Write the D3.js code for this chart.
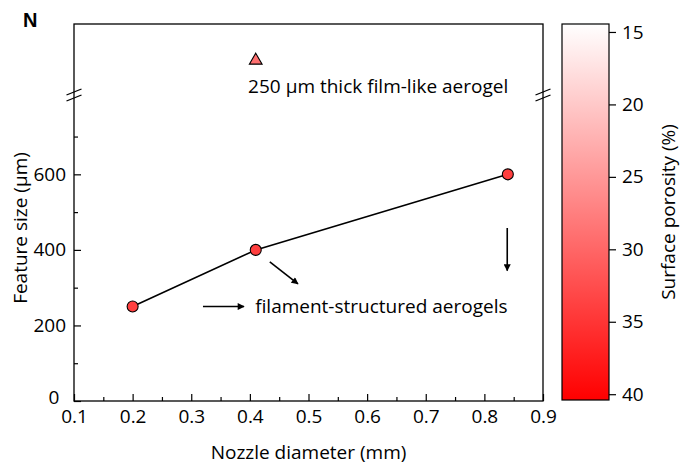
<!DOCTYPE html>
<html>
<head>
<meta charset="utf-8">
<script src="https://cdn.jsdelivr.net/npm/d3@7"></script>
<style>
  body { margin: 0; background: #fff; }
  svg { display: block; font-family: "Open Sans", sans-serif; }
</style>
</head>
<body>
<svg id="chart" width="696" height="468"></svg>
<script>
// ---------- data ----------
const nozzleDiameter = [0.2, 0.41, 0.84];          // mm
const featureSize    = [250, 400, 600];            // µm
const surfacePorosity = [34, 34, 34];              // %
const filmNozzle = [0.41];
const filmFeature = [1500];                        // above the axis break
const filmPorosity = [29];
const xTicks = [0.1, 0.2, 0.3, 0.4, 0.5, 0.6, 0.7, 0.8, 0.9];
const xMinor = [0.15, 0.25, 0.35, 0.45, 0.55, 0.65, 0.75, 0.85];
const yTicks = [0, 200, 400, 600];
const yMinor = [100, 300, 500, 700];
const cTicks = [15, 20, 25, 30, 35, 40];
// annotation arrows in data space: [x1, y1, x2, y2]
const arrows = [
  [0.434, 368, 0.482, 310],
  [0.839, 458, 0.839, 345],
  [0.32, 250, 0.39, 250]
];

// ---------- layout ----------
const svg = d3.select("#chart");
const L = 74, R = 543, T = 24, B = 401, BRK = 95;

const x = d3.scaleLinear().domain([0.1, 0.9]).range([L, R]);
const y = d3.scaleLinear().domain([0, 810]).range([B, BRK]);
const yTop = d3.scaleLinear().domain([1000, 2000]).range([BRK, T]);
const cmin = 14.45, cmax = 40.4;
const color = d3.scaleLinear().domain([cmin, cmax]).range(["#ffffff", "#ff0000"]);
const cy = d3.scaleLinear().domain([cmin, cmax]).range([T, 400]);

const fontSize = 19;
const titleSize = 19;

// frame
svg.append("rect").attr("x", L).attr("y", T).attr("width", R - L).attr("height", B - T)
  .attr("fill", "none").attr("stroke", "#000").attr("stroke-width", 1.3);

// x axis
const gx = svg.append("g").attr("transform", `translate(0,${B})`)
  .call(d3.axisBottom(x).tickValues(xTicks).tickSize(-7).tickPadding(9).tickFormat(d3.format(".1f")));
gx.select(".domain").remove();
gx.selectAll("line").attr("stroke-width", 1.2);
gx.selectAll("text").attr("font-size", fontSize).attr("fill", "#000").attr("font-family", "Open Sans");
const gxm = svg.append("g").attr("transform", `translate(0,${B})`)
  .call(d3.axisBottom(x).tickValues(xMinor).tickSize(-4).tickFormat(""));
gxm.select(".domain").remove();
gxm.selectAll("line").attr("stroke-width", 1.2);

// y axis
const gy = svg.append("g").attr("transform", `translate(${L},0)`)
  .call(d3.axisLeft(y).tickValues(yTicks).tickSize(-7).tickPadding(8));
gy.select(".domain").remove();
gy.selectAll("line").attr("stroke-width", 1.2);
gy.selectAll("text").attr("font-size", fontSize).attr("fill", "#000").attr("font-family", "Open Sans");
gy.selectAll(".tick").filter(d => d === 0).select("text").attr("dy", "0.15em").attr("dx", "-0.35em");
const gym = svg.append("g").attr("transform", `translate(${L},0)`)
  .call(d3.axisLeft(y).tickValues(yMinor).tickSize(-4).tickFormat(""));
gym.select(".domain").remove();
gym.selectAll("line").attr("stroke-width", 1.2);

// axis breaks
[L, R].forEach(px => {
  [-3, 3].forEach(off => {
    svg.append("line")
      .attr("x1", px - 7.5).attr("y1", BRK + off + 3)
      .attr("x2", px + 7.5).attr("y2", BRK + off - 3)
      .attr("stroke", "#000").attr("stroke-width", 1.3);
  });
});

// axis titles
svg.append("text").attr("x", (L + R) / 2).attr("y", 459).attr("text-anchor", "middle")
  .attr("font-size", titleSize).text("Nozzle diameter (mm)");
svg.append("text").attr("transform", `translate(27,${(B + BRK) / 2 - 20}) rotate(-90)`)
  .attr("text-anchor", "middle").attr("font-size", titleSize).text("Feature size (µm)");

// panel letter
svg.append("text").attr("x", 23).attr("y", 27).attr("font-family", "Liberation Sans, Arial")
  .attr("font-weight", "bold").attr("font-size", 20).text("N");

// line + circles
const pts = nozzleDiameter.map((d, i) => ({ x: d, y: featureSize[i], p: surfacePorosity[i] }));
svg.append("path").datum(pts)
  .attr("d", d3.line().x(d => x(d.x)).y(d => y(d.y)))
  .attr("fill", "none").attr("stroke", "#000").attr("stroke-width", 1.6);
svg.selectAll("circle.pt").data(pts).join("circle").attr("class", "pt")
  .attr("cx", d => x(d.x)).attr("cy", d => y(d.y)).attr("r", 5.5)
  .attr("fill", d => color(d.p)).attr("stroke", "#000").attr("stroke-width", 1.1);

// film point (triangle)
const film = filmNozzle.map((d, i) => ({ x: d, y: filmFeature[i], p: filmPorosity[i] }));
svg.selectAll("path.tri").data(film).join("path").attr("class", "tri")
  .attr("d", d3.symbol().type(d3.symbolTriangle).size(70))
  .attr("transform", d => `translate(${x(d.x)},${yTop(d.y) + 1})`)
  .attr("fill", d => color(d.p)).attr("stroke", "#000").attr("stroke-width", 1.1);

// annotations
svg.append("text").attr("x", x(0.397)).attr("y", yTop(1028)).attr("font-size", 19)
  .text("250 µm thick film-like aerogel");
svg.append("text").attr("x", x(0.409)).attr("y", y(233)).attr("font-size", 19)
  .text("filament-structured aerogels");

// arrows
const defs = svg.append("defs");
defs.append("marker").attr("id", "ah").attr("viewBox", "0 0 10 10")
  .attr("refX", 9).attr("refY", 5).attr("markerWidth", 9).attr("markerHeight", 7)
  .attr("markerUnits", "userSpaceOnUse").attr("orient", "auto")
  .append("path").attr("d", "M0,0 L10,5 L0,10 Z").attr("fill", "#000");
svg.selectAll("line.arrow").data(arrows).join("line").attr("class", "arrow")
  .attr("x1", d => x(d[0])).attr("y1", d => y(d[1]))
  .attr("x2", d => x(d[2])).attr("y2", d => y(d[3]))
  .attr("stroke", "#000").attr("stroke-width", 1.6).attr("marker-end", "url(#ah)");

// colorbar
const grad = defs.append("linearGradient").attr("id", "cbar")
  .attr("x1", 0).attr("y1", 0).attr("x2", 0).attr("y2", 1);
grad.append("stop").attr("offset", "0%").attr("stop-color", color(cmin));
grad.append("stop").attr("offset", "100%").attr("stop-color", color(cmax));
svg.append("rect").attr("x", 562).attr("y", T).attr("width", 47).attr("height", 400 - T)
  .attr("fill", "url(#cbar)").attr("stroke", "#000").attr("stroke-width", 1.2);
const gc = svg.append("g").attr("transform", "translate(609,0)")
  .call(d3.axisRight(cy).tickValues(cTicks).tickSize(7).tickPadding(6));
gc.select(".domain").remove();
gc.selectAll("line").attr("stroke-width", 1.2);
gc.selectAll("text").attr("font-size", fontSize).attr("fill", "#000").attr("font-family", "Open Sans");
svg.append("text").attr("transform", `translate(675,${(T + 400) / 2}) rotate(-90)`)
  .attr("text-anchor", "middle").attr("font-size", titleSize).text("Surface porosity (%)");
</script>
</body>
</html>
